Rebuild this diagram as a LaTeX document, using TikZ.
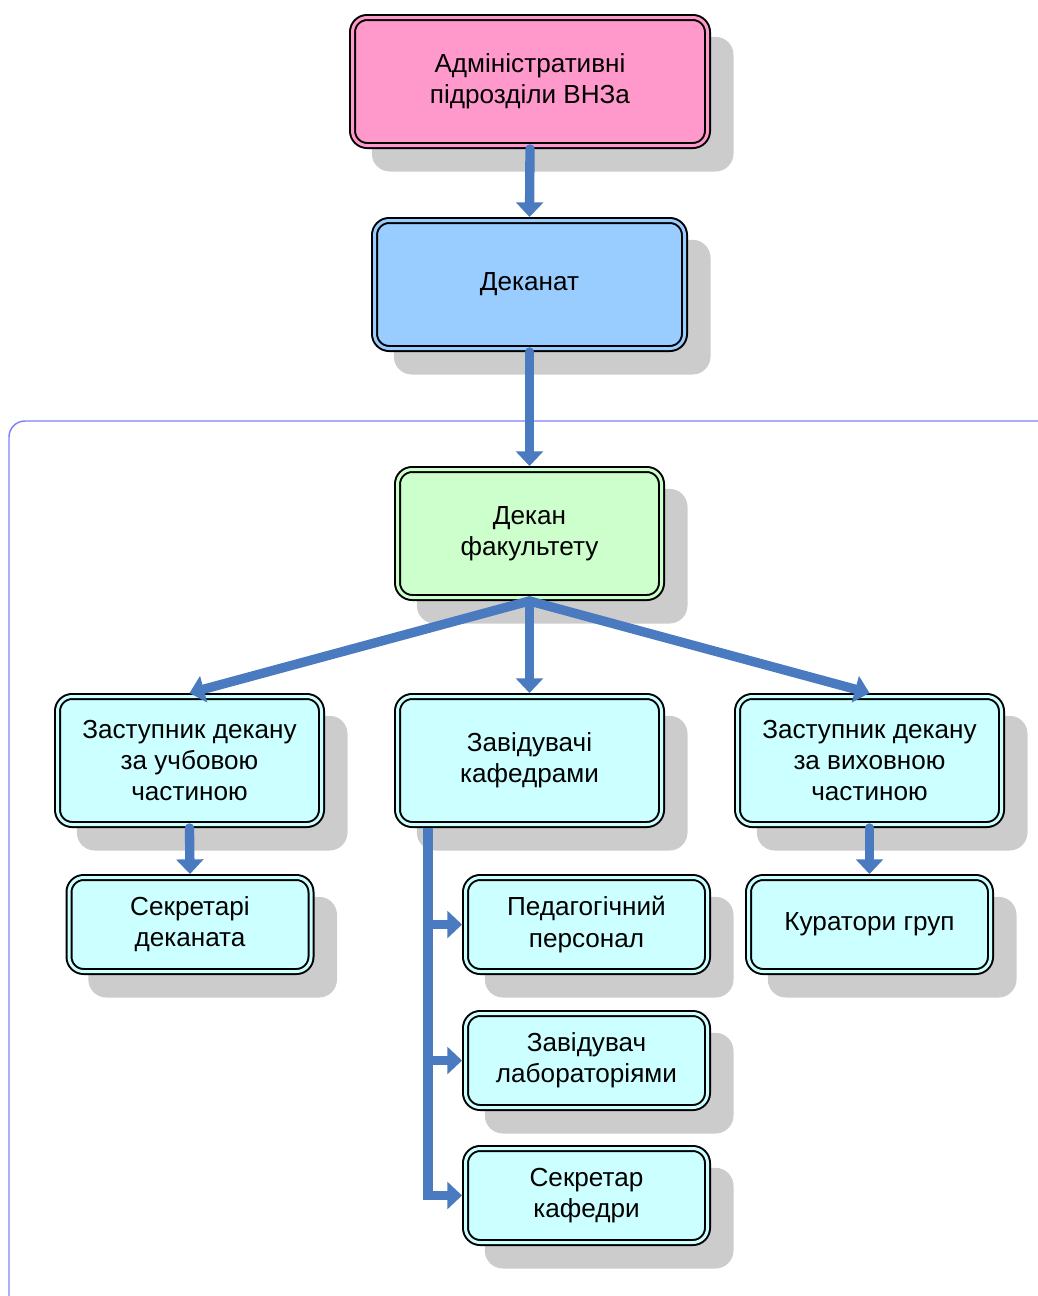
\documentclass[tikz,border=0pt]{standalone}
\usepackage{fontspec}
\setmainfont{Liberation Sans}
\usetikzlibrary{arrows.meta,shadows}
\definecolor{pinkfill}{HTML}{FF99CC}
\definecolor{bluefill}{HTML}{99CCFF}
\definecolor{greenfill}{HTML}{CCFFCC}
\definecolor{cyanfill}{HTML}{CCFFFF}
\definecolor{shgrey}{HTML}{CCCCCC}
\definecolor{arrowblue}{HTML}{4A7ABF}
\definecolor{framecol}{HTML}{8080FF}
\begin{document}
\begin{tikzpicture}[x=0.75pt,y=-0.75pt,
  unit/.style={draw=black, line width=1.5pt, double distance=2.25pt,
    rounded corners=11pt, inner sep=0pt, outer sep=2.6pt, align=center,
    font=\fontsize{19.6pt}{23.3pt}\selectfont,
    drop shadow={shadow xshift=17pt, shadow yshift=-17pt, fill=shgrey,
      draw=shgrey, line width=5pt, opacity=1}},
  bigbox/.style={unit, minimum width=198pt, minimum height=96pt},
  smallbox/.style={unit, minimum width=181.5pt, minimum height=70.5pt,
    double=cyanfill, fill=cyanfill},
  link/.style={draw=arrowblue, line width=7pt, line cap=round,
    -{Triangle[width=20pt,length=11pt]}}]
\useasboundingbox (0,0) rectangle (1038,1296);

% faculty frame
\begin{scope}
  \clip (0,0) rectangle (1038,1296);
  \draw[framecol, line width=1.1pt, rounded corners=12pt]
    (9,421) rectangle (1080,1340);
\end{scope}

% units
\node[unit, minimum width=266.25pt, minimum height=96pt, fill=pinkfill, double=pinkfill]
  (adm) at (530,81.5) {Адміністративні\\підрозділи ВНЗа};
\node[unit, minimum width=232.5pt, minimum height=96pt, fill=bluefill, double=bluefill]
  (dek) at (529.5,284.5) {Деканат};
\node[bigbox, fill=greenfill, double=greenfill]
  (dean) at (529.5,533.5) {Декан\\факультету};
\node[bigbox, fill=cyanfill, double=cyanfill]
  (dep1) at (189.5,760.5) {Заступник декану\\за учбовою\\частиною};
\node[bigbox, fill=cyanfill, double=cyanfill]
  (heads) at (529.5,760.5) {Завідувачі\\кафедрами};
\node[bigbox, fill=cyanfill, double=cyanfill]
  (dep2) at (869.5,760.5) {Заступник декану\\за виховною\\частиною};
\node[smallbox] (secd) at (190,924.5) {Секретарі\\деканата};
\node[smallbox] (ped) at (586.5,924.5) {Педагогічний\\персонал};
\node[smallbox] (lab) at (586.5,1060.5) {Завідувач\\лабораторіями};
\node[smallbox] (seck) at (586.5,1195.5) {Секретар\\кафедри};
\node[smallbox] (cur) at (869.5,924.5) {Куратори груп};

% connectors
\draw[link] (adm.south) -- (dek.north);
\draw[link] (dek.south) -- (dean.north);
\draw[link] (dean.south) -- (dep1.north);
\draw[link] (dean.south) -- (heads.north);
\draw[link] (dean.south) -- (dep2.north);
\draw[link] (dep1.south) -- (secd.north);
\draw[link] (dep2.south) -- (cur.north);
\coordinate (trunk) at ([xshift=25.5pt]heads.south west);
\draw[link, line cap=butt] (trunk) |- (seck.west);
\draw[link, line cap=butt] (trunk) |- (ped.west);
\draw[link, line cap=butt] (trunk) |- (lab.west);
\end{tikzpicture}
\end{document}
